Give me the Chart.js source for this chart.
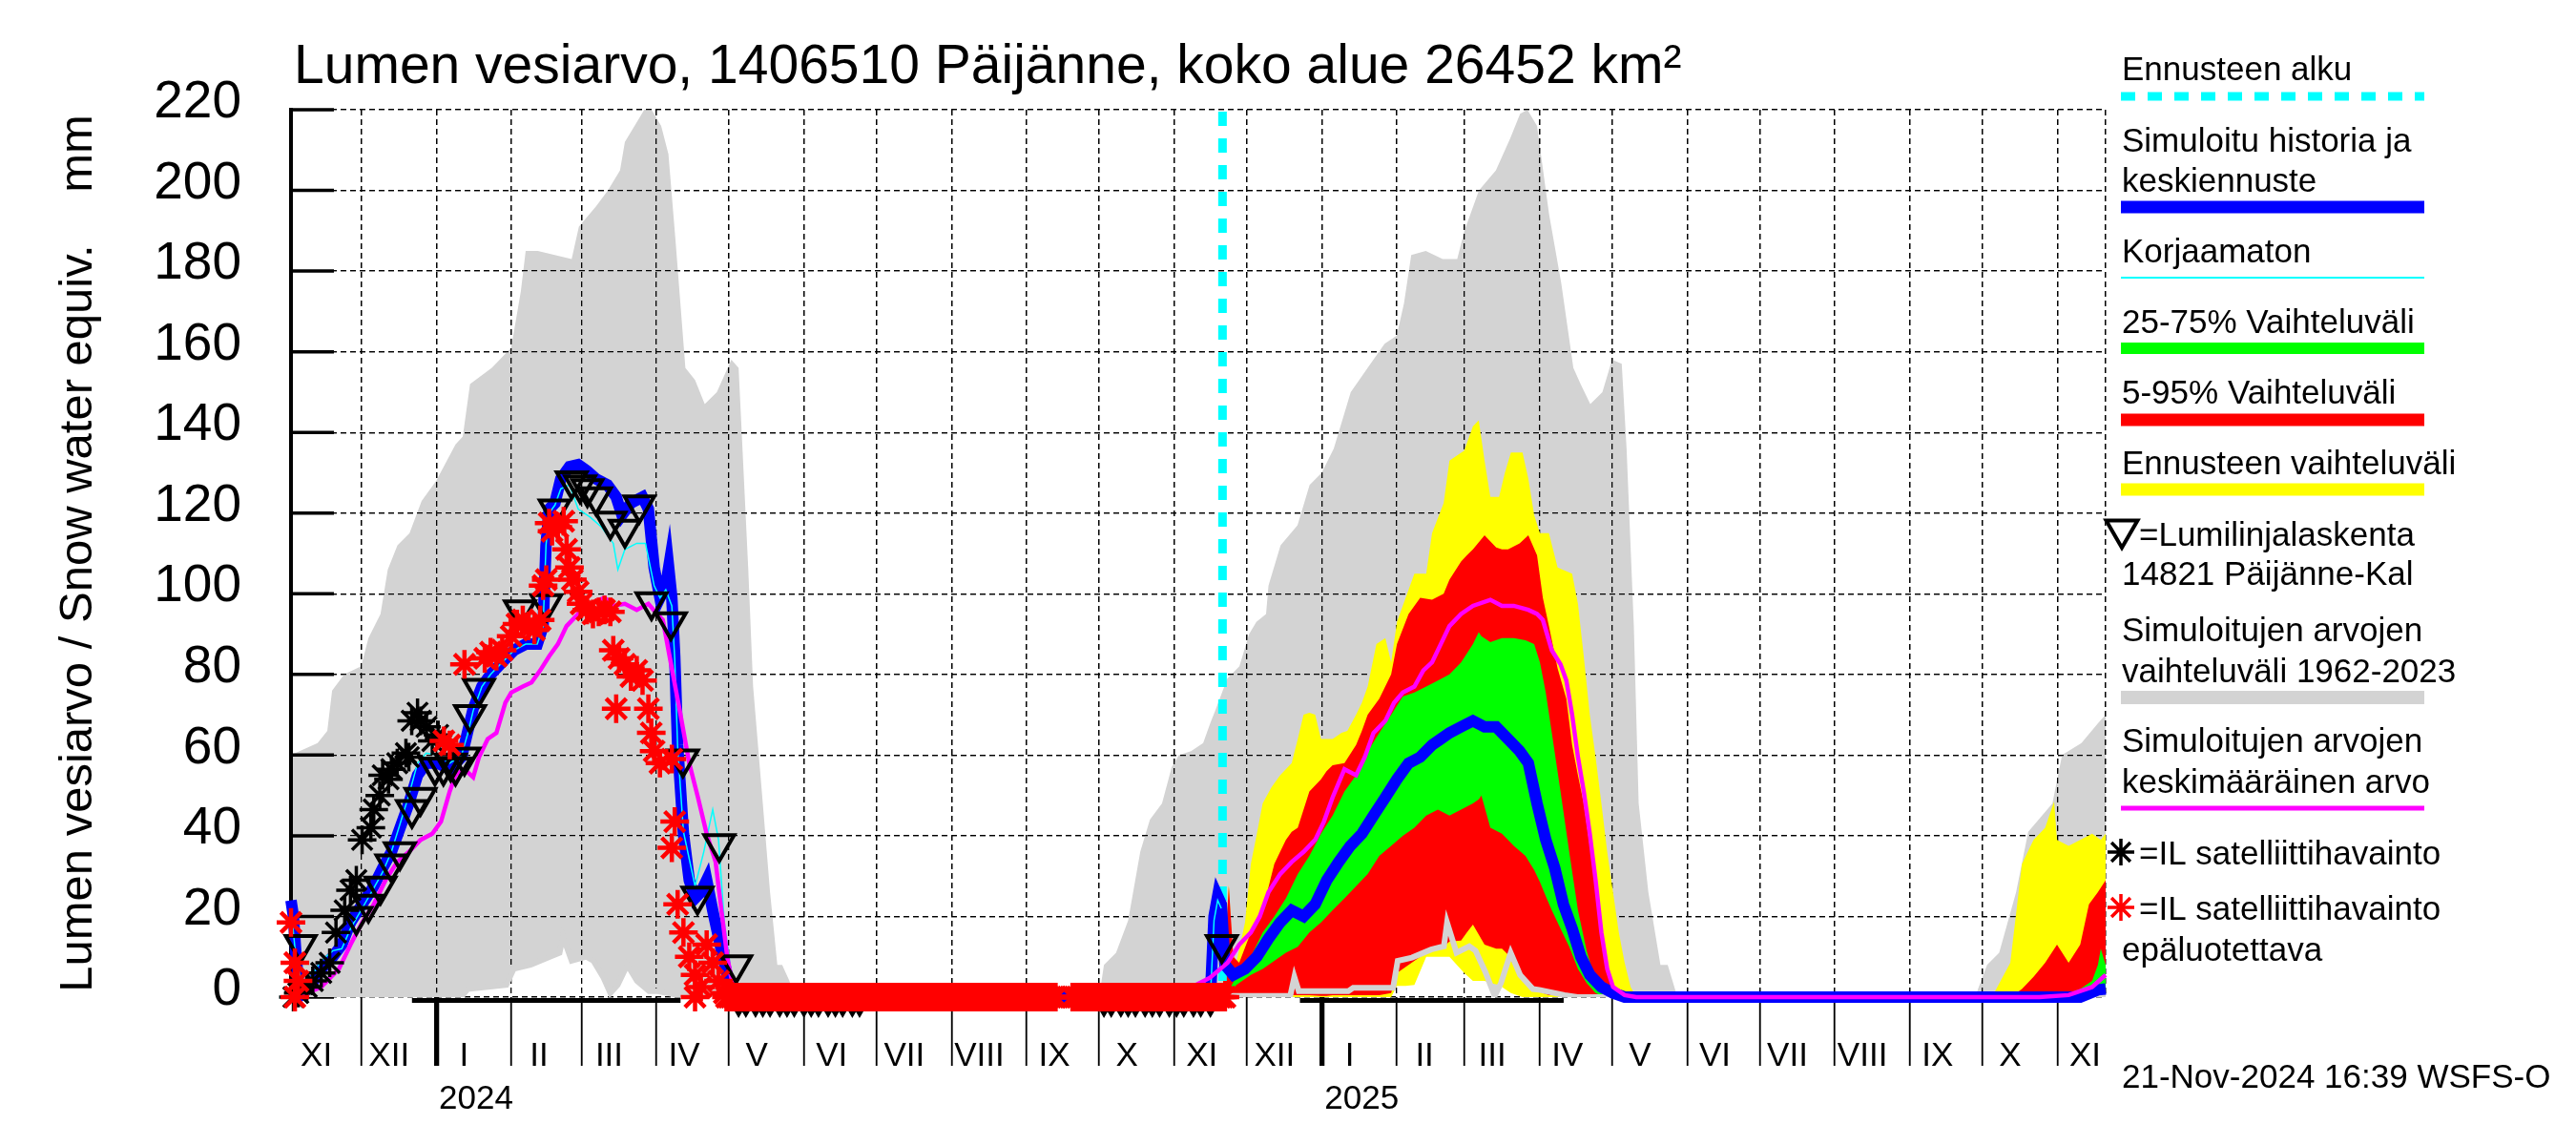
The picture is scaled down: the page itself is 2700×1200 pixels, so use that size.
<!DOCTYPE html>
<html>
<head>
<meta charset="utf-8">
<title>Lumen vesiarvo</title>
<style>
  html, body { margin: 0; padding: 0; background: #fff; }
  #wrap { position: relative; width: 2700px; height: 1200px; }
</style>
</head>
<body>
<div id="wrap"><canvas id="chart_swe"></canvas></div>
<script src="https://cdn.jsdelivr.net/npm/chart.js"></script>
<script>
// x values are days counted from 2023-11-01
const X_MIN = 1;
const X_MAX = 751;
const forecastStart = 386;

const monthStarts = [0, 30, 61, 92, 121, 152, 182, 213, 243, 274, 305, 335, 366, 396, 427, 458, 486, 517, 547, 578, 608, 639, 670, 700, 731];
const monthNames = ['XI', 'XII', 'I', 'II', 'III', 'IV', 'V', 'VI', 'VII', 'VIII', 'IX', 'X', 'XI', 'XII', 'I', 'II', 'III', 'IV', 'V', 'VI', 'VII', 'VIII', 'IX', 'X', 'XI'];
const yearStarts = [61, 427];
const yearNames = ['2024', '2025'];
const yTickValues = [0, 20, 40, 60, 80, 100, 120, 140, 160, 180, 200, 220];

// simulated range 1962-2023
const grayMaxDays = [1, 12, 16, 18, 23, 30, 33, 38, 41, 45, 50, 55, 61, 69, 72, 75, 84, 92, 96, 98, 103, 117, 120, 127, 132, 137, 139, 144, 147, 150, 154, 157, 160, 164, 168, 172, 177, 183, 186, 190, 192, 196, 199, 202, 204, 207, 209, 335, 337, 342, 347, 352, 356, 361, 365, 368, 373, 378, 381, 383, 388, 393, 397, 400, 404, 405, 410, 417, 422, 427, 432, 439, 446, 453, 458, 461, 464, 470, 477, 483, 486, 492, 499, 505, 509, 512, 516, 521, 526, 531, 534, 538, 543, 547, 551, 553, 556, 558, 562, 567, 570, 574, 697, 702, 707, 714, 719, 729, 733, 741, 748, 751];
const grayMaxVals = [60, 63, 66, 76, 80, 82, 89, 95, 106, 112, 115, 123, 128, 137, 139, 152, 156, 161, 175, 185, 185, 183, 191, 196, 200, 205, 212, 217, 220, 220, 216, 209, 187, 156, 153, 147, 150, 158, 156, 106, 77, 48, 26, 8, 8, 4, 0, 0, 8, 11, 19, 36, 44, 48, 57, 60, 61, 63, 68, 71, 79, 82, 90, 93, 95, 102, 112, 117, 127, 130, 136, 150, 156, 162, 164, 172, 184, 185, 183, 183, 190, 200, 205, 213, 219, 220, 216, 194, 177, 156, 152, 147, 150, 158, 157, 136, 92, 48, 26, 8, 8, 0, 0, 8, 11, 26, 41, 48, 60, 63, 68, 70];
const grayMinDays = [1, 72, 74, 90, 93, 100, 108, 112, 113.4, 117, 123, 126, 130, 133, 136, 140, 144, 149, 152, 161, 165, 386, 414, 415.7, 417.5, 438, 440, 456.5, 458.4, 464.3, 472.2, 477.5, 478.8, 482.7, 488, 490.6, 494.6, 498.5, 501.1, 505.1, 509, 514.3, 516.9, 527.4, 532.7, 751];
const grayMinVals = [0, 0.5, 2, 3, 7, 8, 10, 11, 15, 9, 10, 9, 5, 1, 3, 8, 4, 1.5, 1.5, 0.5, 0, 0.3, 0.3, 5, 1.5, 1.5, 2.3, 2.3, 9, 9.8, 11.8, 12.6, 18.5, 11, 12.6, 11.5, 6.3, 0.3, 3.5, 11, 5.5, 2, 1.8, 0.5, 0, 0];

// forecast ensemble range
const yellowDays = [386, 388.6, 390, 391.7, 395.3, 397.7, 400.2, 402.6, 406.2, 409.8, 414.6, 417.1, 419.5, 421.9, 424.3, 426.7, 431.5, 435.2, 437.6, 441.2, 443.6, 446, 449.6, 453.3, 455.7, 458.1, 461.7, 465.3, 470.2, 472.6, 477.4, 479.8, 485.9, 489.5, 491.9, 494.3, 496.7, 500.3, 502.7, 505.2, 510, 512.4, 514.8, 517.2, 520.9, 524.5, 530.5, 532.9, 535.3, 537.8, 540.2, 542.6, 545, 547.4, 549.8, 552.2, 554.7, 557.1, 704, 711.6, 716.4, 721.2, 726, 729.7, 730.9, 735.7, 740.5, 745.4, 749, 751];
const yellowHigh = [2, 28, 12, 8.5, 18.5, 33, 40.5, 48, 52, 55, 58, 64, 70, 70.5, 70, 64, 64, 65.5, 66, 70, 73, 77, 87.5, 89, 83, 93, 99, 105, 105, 115, 122.5, 133, 135.5, 141.5, 143, 133, 124, 124, 130, 135, 135, 128.5, 119.5, 115, 115, 106.5, 105, 97.5, 84.5, 70, 59.5, 48, 36, 26, 16, 8.5, 2.5, 0, 0, 8.5, 33, 39, 42, 48.5, 39, 37.5, 39, 40.5, 39, 40.5];
const yellowLow = [0, 0, 0, 0, 0, 0, 0, 0, 0, 0, 0, 0, 0, 0, 0, 0, 0, 0, 0, 0, 0, 0, 0, 0, 0, 2.8, 2.8, 3, 10, 10, 10, 10, 6, 4, 4, 4, 3.5, 3, 2, 1, 0, 0, 0, 0, 0, 0, 0, 0, 0, 0, 0, 0, 0, 0, 0, 0, 0, 0, 0, 0, 0, 0, 0, 0, 0, 0, 0, 0, 0, 0];

// 5-95 %
const redDays = [386, 388.6, 390.5, 392.9, 397.7, 402.6, 407.4, 409.8, 412.2, 414.6, 417.1, 421.9, 426.7, 429, 431.5, 436.4, 441.2, 443.6, 446, 450.8, 455.7, 458.1, 462.9, 465.3, 467.7, 472.6, 477.4, 479.8, 484.6, 487, 489.5, 494.3, 499.1, 501.5, 504, 508.8, 512.4, 516, 518.4, 520.9, 524.5, 528.1, 530.5, 532.9, 535.3, 537.8, 540.2, 542.6, 545, 547.4, 549.8, 711.6, 716.4, 721.2, 726, 730.9, 735.7, 740.5, 744.1, 747.8, 751];
const redHigh = [1, 27.5, 10, 8.5, 16, 21.5, 33, 36, 39, 41, 42, 51, 54, 56, 57.5, 58, 62.5, 66, 70, 74, 80, 87.5, 95, 97, 99, 98.5, 100, 103.5, 108, 109.5, 111, 114.5, 111.5, 111, 111, 112.5, 114.5, 109.5, 99, 92, 81.5, 74, 62.5, 55, 48, 37.5, 27.5, 16, 8.5, 2.5, 0, 0, 2, 5, 8.5, 13, 8.5, 13, 23, 26, 29];
const redLow = [0, 0, 0, 0, 0, 0.3, 0.3, 0.3, 0.5, 0.5, 0.5, 0.5, 0.3, 0.3, 0.5, 0.5, 0.5, 0.5, 0.5, 0.5, 1, 6, 8, 9, 10, 11.5, 12.5, 13.8, 14, 16, 18, 13, 12, 12, 10.5, 5, 3, 1.5, 1, 0.5, 0.5, 0.3, 0, 0, 0, 0, 0, 0, 0, 0, 0, 0, 0, 0, 0, 0, 0, 0, 0, 0, 0];

// 25-75 %
const greenDays = [388, 391.7, 397.7, 402.6, 407.4, 412.2, 417.1, 421.9, 426.7, 431.5, 436.4, 441.2, 446, 450.8, 455.7, 460.5, 465.3, 470.2, 475, 479.8, 484.6, 489.5, 491.9, 493, 496.7, 501.5, 506.4, 511.2, 514.8, 517.2, 519.6, 522.1, 525.7, 529.3, 532.9, 536.5, 540.2, 543.8, 547.4, 730.9, 735.7, 740.5, 745.4, 747.8, 749, 751];
const greenHigh = [1, 5, 10, 16, 20, 24.5, 30.5, 35, 40.5, 45, 51, 55, 61, 65.5, 70, 74.5, 75.5, 77, 78.5, 80, 83, 87.5, 90.5, 89.5, 88, 89, 89, 88.5, 87.5, 83, 75.5, 65.5, 51, 36, 21.5, 11.5, 4, 0.5, 0, 0, 1, 2, 4, 8, 12, 8];
const greenLow = [0.5, 3, 5.5, 7, 9, 11, 12.5, 16, 18.5, 21.5, 24.5, 27.5, 30.5, 35, 37.5, 40, 42, 45, 46.5, 45, 46.5, 48, 49, 50, 42, 40.5, 37.5, 35, 31.5, 28.5, 25, 21.5, 17, 12.5, 7, 3.5, 1, 0, 0, 0, 0, 0, 0, 0, 0, 0];

// simulated history and median forecast
const blueDays = [1, 2, 3, 4, 6, 8.7, 13.5, 18.3, 22, 25.6, 30.4, 35.2, 38.9, 42.5, 46.1, 49.7, 53.3, 56.9, 61.8, 66.6, 71.5, 73.9, 76.3, 79.9, 83.5, 88.3, 93.2, 98, 102.8, 105.2, 106.4, 107.7, 110.1, 112.5, 116.1, 119.7, 123.3, 127, 131.8, 135.4, 137.8, 141.5, 146.3, 148.7, 151.1, 153.5, 155.9, 157.1, 158.4, 159.6, 160.8, 163.2, 165.6, 168, 170.4, 172.8, 175.3, 178.9, 182.5, 186, 381, 382.5, 384, 385.5, 387, 390.5, 395.3, 400.2, 405, 409.8, 414.6, 419.5, 424.3, 429.1, 434, 438.8, 443.6, 448.4, 453.3, 458.1, 462.9, 467.7, 472.6, 476.2, 479.8, 484.6, 489.5, 494.3, 499.1, 504, 508.8, 512.4, 516, 519.6, 523.3, 526.9, 530.5, 534.1, 537.8, 542.6, 547.4, 552.2, 740.5, 747.8, 751];
const blueVals = [24, 20, 11, 4, 1, 2.5, 7, 10, 13, 18.5, 23, 27.5, 32, 36, 42, 48, 55, 58, 58, 56.5, 59.5, 65.5, 71.5, 77, 80, 83, 86, 87.5, 87.5, 92, 112, 121, 122.5, 128.5, 131.5, 132, 130.5, 128.5, 127, 124, 119.5, 122.5, 124, 121, 106.5, 99, 102, 106.5, 99, 84.5, 62.5, 40.5, 29, 24.5, 26, 29, 21.5, 11.5, 2.5, 0, 0, 20, 25, 23, 8, 5.5, 7, 10, 14.5, 18.5, 21.5, 20, 23, 29, 33.5, 37.5, 40.5, 45, 49.5, 54, 58, 59.5, 62.5, 64, 65.5, 67, 68.5, 67, 67, 64, 61, 58, 48, 39, 32, 23, 17, 10, 5.5, 2.5, 1, 0, 0, 1.8, 2];

// uncorrected
const cyanDays = [1, 3, 6, 13.5, 18.3, 22, 25.6, 30.4, 35.2, 38.9, 42.5, 46.1, 49.7, 53.3, 56.9, 61.8, 66.6, 71.5, 73.9, 76.3, 79.9, 83.5, 88.3, 93.2, 98, 102.8, 105.2, 106.4, 107.7, 110.1, 112.5, 116.1, 119.7, 124.6, 129.4, 134.2, 136.1, 139, 143.9, 147.5, 151.1, 153.5, 155.9, 158.4, 159.6, 160.8, 163.2, 168, 171.6, 175.3, 177.7, 180.1, 183.7, 186, 381, 382.5, 384, 385.5];
const cyanVals = [22, 10, 2, 9, 11.5, 12, 17, 22, 27, 31, 36, 43, 50, 58, 60.5, 60, 58, 60, 65, 71, 77, 80, 83, 86, 87.5, 87.5, 92, 112, 120, 122, 126, 127, 121, 119, 116.5, 112.5, 106, 111, 112.5, 112.5, 102, 99, 101, 97, 84, 62, 41, 27.5, 36, 46.5, 39, 18.5, 2.5, 0, 0, 19, 24, 22];

// mean of simulated values
const magDays = [1, 4, 13.5, 20.8, 25.6, 30.4, 35.2, 40.1, 44.9, 49.7, 54.6, 59.4, 63, 66.6, 69, 72.7, 76.3, 78.7, 82.3, 85.9, 89.6, 92, 96.8, 100.4, 104, 107.7, 111.3, 114.9, 119.7, 124.6, 130.6, 134.2, 139, 143.9, 148.7, 152.3, 154.7, 158.4, 162, 165.6, 169.2, 172.8, 176.5, 178.9, 181.3, 183.7, 187.3, 340, 360, 375, 380.8, 388.1, 392.9, 397.7, 401.4, 405, 409.8, 414.6, 419.5, 424.3, 427.9, 431.5, 436.4, 441.2, 444.8, 448.4, 453.3, 456.9, 460.5, 465.3, 469, 472.6, 476.2, 479.8, 484.6, 489.5, 496.7, 501.5, 506.4, 512.4, 516, 518.4, 522.1, 525.7, 528.1, 530.5, 532.9, 535.3, 537.8, 540.2, 542.6, 545, 547.4, 552.2, 557, 723.6, 735.7, 745.4, 751];
const magVals = [0, 0, 2.5, 7, 13, 18.5, 23, 29, 33.5, 36, 39, 40.5, 43.5, 51, 55, 56.5, 54.5, 59.5, 64, 65.5, 73, 75.5, 77, 78, 81, 84.5, 87.5, 92, 95, 97.5, 99, 97, 97.5, 96, 97.5, 95, 93.5, 81.5, 70, 58, 49.5, 40.5, 33.5, 21.5, 10, 2.5, 0, 0, 1.5, 3, 4.8, 8.5, 13, 16, 20, 26, 30.5, 33.5, 36, 39, 43.5, 49.5, 56.5, 55, 59.5, 65.5, 68.5, 73, 75.5, 77, 81, 83, 87.5, 92, 95, 97, 98.5, 97, 97, 96, 95, 93.5, 86, 82.5, 78.5, 70, 59.5, 51, 40.5, 29, 16, 7, 2.5, 0.5, 0, 0, 0.5, 2.5, 5.5];

// snow course 14821
const triDays = [5, 28, 33, 38, 42.5, 46, 51, 54.5, 60.5, 64, 67, 69, 72.7, 75, 78.7, 95.6, 106.5, 110, 117, 120.5, 123.5, 127, 133, 139, 145, 150, 158, 163, 169, 178, 185, 186, 189, 193, 196, 199, 203, 206, 209, 213, 216, 219, 223, 226, 229, 233, 236, 337, 340, 344, 347, 350, 354, 357, 360, 364, 367, 370, 374, 377, 381, 385.7];
const triVals = [13, 20, 23, 27.5, 33, 36, 46.5, 49.5, 57, 57, 58, 57, 59.5, 70, 76.5, 96, 97.5, 121, 128, 127, 126, 124, 118, 116, 122, 98, 93, 59, 25, 38, 8, 0, 0, 0, 0, 0, 0, 0, 0, 0, 0, 0, 0, 0, 0, 0, 0, 0, 0, 0, 0, 0, 0, 0, 0, 0, 0, 0, 0, 0, 0, 13];

// satellite observations
const satDays = [2, 4, 7.5, 10, 13.5, 17, 19.6, 23.2, 25.6, 28, 30.4, 34, 35.2, 37.7, 38.9, 41.3, 42.5, 44.9, 48.5, 49.7, 50.9, 53.3, 54.6, 57, 59.4, 61.8, 183, 185, 187, 189, 191, 193];
const satVals = [0, 1, 2.5, 4, 6, 8.5, 16, 21.5, 26.5, 29, 39, 42, 46.5, 50, 55, 54, 56.5, 58, 60.5, 59.5, 68.5, 70.5, 68.5, 67, 63.5, 65, 0, 0, 0, 0, 0, 0];

// satellite observations, unreliable
const satBadDays = [1, 2.6, 3.9, 2.6, 64.2, 66.6, 72.7, 81.1, 83.5, 85.9, 88.3, 92, 94.4, 96.8, 99.2, 101.6, 104, 105.2, 106.5, 107.7, 108.9, 111.3, 113.7, 114.9, 116.1, 117.3, 119.7, 120.9, 123.3, 125.8, 128.2, 130.6, 133, 134.2, 135.4, 136.6, 139, 141.5, 143.9, 146.3, 148.7, 149.9, 151.1, 153.5, 158.4, 158.4, 159.6, 160.8, 163.2, 165.6, 168, 170.4, 172.8, 175.3, 177.7, 180.1, 168];
const satBadVals = [18.5, 8.5, 4, 0, 63.5, 62.5, 82.5, 84, 85.5, 84.5, 86, 89.5, 92.5, 93.5, 92, 91, 93.5, 102, 103.5, 117.5, 115.5, 116.5, 118, 111, 106.5, 103.5, 100.5, 97.5, 96, 95, 95.5, 96, 95.5, 86, 71.5, 84, 82.5, 79.5, 81, 78.5, 71.5, 65.5, 61, 58, 59, 37, 43.5, 23, 16, 10, 5.5, 2.5, 13, 8.5, 4, 1, 0];
const satBadZeroSpans = [[181, 317], [324, 387]];   // daily zero readings

const zeroBarDays = [51, 162, 163, 418, 527];
const zeroBarVals = [-0.8, -0.8, null, -0.8, -0.8];

const FONT = '"Liberation Sans", Arial, Helvetica, sans-serif';

function pts(days, vals) {
  return days.map((d, i) => ({ x: d, y: vals[i] }));
}

function dailyZeros(spans) {
  const out = [];
  spans.forEach(([a, b]) => {
    for (let d = a; d <= b; d++) out.push({ x: d, y: 0 });
  });
  return out;
}

const lineBase = { pointRadius: 0, tension: 0, fill: false };
const bandEdge = { pointRadius: 0, borderWidth: 0, tension: 0, fill: false };
const markBase = { showLine: false, clip: false, pointBackgroundColor: 'rgba(0,0,0,0)' };

const datasets = [
  { ...bandEdge, label: 'grayMax', data: pts(grayMaxDays, grayMaxVals), fill: 'origin', backgroundColor: '#d3d3d3', order: 20 },
  { ...bandEdge, label: 'grayMin', data: pts(grayMinDays, grayMinVals), fill: 'origin', backgroundColor: '#ffffff', order: 19 },
  { ...lineBase, label: 'zeroBar', data: pts(zeroBarDays, zeroBarVals), borderColor: '#000000', borderWidth: 5, clip: false, order: 18 },
  { ...bandEdge, label: 'yellowLow', data: pts(yellowDays, yellowLow), order: 17 },
  { ...bandEdge, label: 'yellowHigh', data: pts(yellowDays, yellowHigh), fill: 3, backgroundColor: '#ffff00', order: 16 },
  { ...bandEdge, label: 'redLow', data: pts(redDays, redLow), order: 15 },
  { ...bandEdge, label: 'redHigh', data: pts(redDays, redHigh), fill: 5, backgroundColor: '#ff0000', order: 14 },
  { ...bandEdge, label: 'greenLow', data: pts(greenDays, greenLow), order: 13 },
  { ...bandEdge, label: 'greenHigh', data: pts(greenDays, greenHigh), fill: 7, backgroundColor: '#00ff00', order: 12 },
  { ...lineBase, label: 'grayMinLine', data: pts(grayMinDays, grayMinVals), borderColor: '#d3d3d3', borderWidth: 6, order: 11 },
  { ...lineBase, label: 'forecastStart', data: [{ x: forecastStart, y: 219.5 }, { x: forecastStart, y: 0 }], borderColor: '#00ffff', borderWidth: 9, borderDash: [15, 13], borderCapStyle: 'butt', order: 10 },
  { ...lineBase, label: 'median', data: pts(blueDays, blueVals), borderColor: '#0000ff', borderWidth: 12, clip: false, order: 9 },
  { ...lineBase, label: 'uncorrected', data: pts(cyanDays, cyanVals), borderColor: '#00ffff', borderWidth: 1.5, order: 8 },
  { ...lineBase, label: 'mean', data: pts(magDays, magVals), borderColor: '#ff00ff', borderWidth: 4.5, clip: false, order: 7 },
  { ...markBase, label: 'snowCourse', data: pts(triDays, triVals), pointStyle: 'triangle', pointRotation: 180, pointRadius: 18, pointBorderWidth: 4, pointBorderColor: '#000000', order: 6 },
  { ...markBase, label: 'satellite', data: pts(satDays, satVals), pointStyle: 'star', pointRadius: 15, pointBorderWidth: 3.5, pointBorderColor: '#000000', order: 5 },
  { ...markBase, label: 'satelliteBad', data: pts(satBadDays, satBadVals).concat(dailyZeros(satBadZeroSpans)), pointStyle: 'star', pointRadius: 15, pointBorderWidth: 4.5, pointBorderColor: '#ff0000', order: 4 },
];

const isBoundary = c => c.tick && (c.tick.kind === 'month' || c.tick.kind === 'year' || c.tick.kind === 'edge');

const legendTexts = [
  ['Ennusteen alku', 2224, 84],
  ['Simuloitu historia ja', 2224, 159],
  ['keskiennuste', 2224, 201],
  ['Korjaamaton', 2224, 275],
  ['25-75% Vaihteluväli', 2224, 349],
  ['5-95% Vaihteluväli', 2224, 423],
  ['Ennusteen vaihteluväli', 2224, 497],
  ['=Lumilinjalaskenta', 2242, 572],
  ['14821 Päijänne-Kal', 2224, 613],
  ['Simuloitujen arvojen', 2224, 672],
  ['vaihteluväli 1962-2023', 2224, 715],
  ['Simuloitujen arvojen', 2224, 788],
  ['keskimääräinen arvo', 2224, 831],
  ['=IL satelliittihavainto', 2242, 906],
  ['=IL satelliittihavainto', 2242, 964],
  ['epäluotettava', 2224, 1007],
  ['21-Nov-2024 16:39 WSFS-O', 2224, 1140],
];

const legendLines = [
  { y: 101, color: '#00ffff', width: 9, dash: [15, 13] },
  { y: 217, color: '#0000ff', width: 13 },
  { y: 291, color: '#00ffff', width: 2 },
  { y: 365, color: '#00ff00', width: 12 },
  { y: 440, color: '#ff0000', width: 13 },
  { y: 513, color: '#ffff00', width: 13 },
  { y: 731, color: '#d3d3d3', width: 14 },
  { y: 847, color: '#ff00ff', width: 5 },
];

const framePlugin = {
  id: 'frame',
  afterDatasetDraw(chart, args) {
    if (args.index !== 1) return;
    const { ctx, chartArea: a, scales } = chart;
    scales.x.drawGrid(a);
    scales.y.drawGrid(a);
    ctx.save();
    ctx.strokeStyle = '#000';
    ctx.lineWidth = 4;
    ctx.beginPath();
    ctx.moveTo(a.left, a.top - 2);
    ctx.lineTo(a.left, a.bottom);
    ctx.stroke();
    ctx.lineWidth = 3.5;
    yTickValues.forEach(v => {
      const py = scales.y.getPixelForValue(v);
      ctx.beginPath();
      ctx.moveTo(a.left, py);
      ctx.lineTo(a.left + 45, py);
      ctx.stroke();
    });
    ctx.restore();
  },
  afterDraw(chart) {
    const ctx = chart.ctx;
    ctx.save();
    ctx.fillStyle = '#000';
    ctx.textAlign = 'left';
    ctx.textBaseline = 'alphabetic';
    ctx.font = '57px ' + FONT;
    ctx.fillText('Lumen vesiarvo, 1406510 Päijänne, koko alue 26452 km²', 308, 87);

    ctx.font = '35px ' + FONT;
    legendTexts.forEach(([t, x, y]) => ctx.fillText(t, x, y));

    legendLines.forEach(l => {
      ctx.save();
      ctx.strokeStyle = l.color;
      ctx.lineWidth = l.width;
      ctx.lineCap = 'butt';
      ctx.setLineDash(l.dash || []);
      ctx.beginPath();
      ctx.moveTo(2223, l.y);
      ctx.lineTo(2541, l.y);
      ctx.stroke();
      ctx.restore();
    });

    const marks = [
      { style: 'triangle', rotation: 180, radius: 19, width: 4, color: '#000', x: 2224, y: 555 },
      { style: 'star', rotation: 0, radius: 14, width: 3.5, color: '#000', x: 2223, y: 893 },
      { style: 'star', rotation: 0, radius: 14, width: 3.5, color: '#ff0000', x: 2223, y: 951 },
    ];
    marks.forEach(m => {
      ctx.save();
      ctx.strokeStyle = m.color;
      ctx.fillStyle = 'rgba(0,0,0,0)';
      ctx.lineWidth = m.width;
      Chart.helpers.drawPoint(ctx, { pointStyle: m.style, rotation: m.rotation, radius: m.radius, borderWidth: m.width }, m.x, m.y);
      ctx.restore();
    });
    ctx.restore();
  }
};

const ctx = document.getElementById('chart_swe');

new Chart(ctx, {
  type: 'line',
  data: { datasets: datasets },
  options: {
    responsive: true,
    maintainAspectRatio: false,
    devicePixelRatio: 1,
    animation: false,
    events: [],
    layout: { padding: { top: 115, right: 493, bottom: 0, left: 0 } },
    plugins: {
      legend: { display: false },
      tooltip: { enabled: false },
      filler: { propagate: false }
    },
    scales: {
      x: {
        type: 'linear',
        min: X_MIN,
        max: X_MAX,
        afterBuildTicks: scale => {
          const t = [];
          monthStarts.forEach(d => {
            if (d > X_MIN && d < X_MAX) t.push({ value: d, kind: yearStarts.includes(d) ? 'year' : 'month' });
          });
          t.push({ value: X_MAX, kind: 'edge' });
          monthStarts.forEach((d, i) => t.push({ value: d + 11.5, kind: 'label', text: monthNames[i] }));
          yearStarts.forEach((d, i) => t.push({ value: d + 16.5, kind: 'ylabel', text: yearNames[i] }));
          t.sort((a, b) => a.value - b.value);
          scale.ticks = t;
        },
        afterFit: scale => { scale.height = 155; },
        grid: {
          color: c => isBoundary(c) ? '#000000' : null,
          lineWidth: c => isBoundary(c) ? 1.3 : 0,
          tickLength: 72,
          tickWidth: c => !c.tick ? 0 : c.tick.kind === 'year' ? 5 : c.tick.kind === 'month' ? 1.5 : 0,
          tickColor: '#000000'
        },
        border: { display: false, dash: [6, 4] },
        ticks: {
          autoSkip: false,
          maxRotation: 0,
          minRotation: 0,
          padding: -32,
          color: '#000000',
          font: { family: FONT, size: 35, lineHeight: 1.2857 },
          callback: (value, index, ticks) => {
            const t = ticks[index];
            if (t.kind === 'label') return t.text;
            if (t.kind === 'ylabel') return ['', t.text];
            return '';
          }
        }
      },
      y: {
        min: 0,
        max: 220,
        afterFit: scale => { scale.width = 305; },
        grid: { color: '#000000', lineWidth: 1.3, drawTicks: false },
        border: { display: true, color: '#000000', width: 4, dash: [6, 4] },
        ticks: {
          stepSize: 20,
          padding: 52,
          labelOffset: -7,
          color: '#000000',
          font: { family: FONT, size: 55 }
        },
        title: {
          display: true,
          text: 'Lumen vesiarvo / Snow water equiv.    mm',
          color: '#000000',
          font: { family: FONT, size: 49 },
          padding: { top: 53, bottom: 0 }
        }
      }
    }
  },
  plugins: [framePlugin]
});
</script>
</body>
</html>
